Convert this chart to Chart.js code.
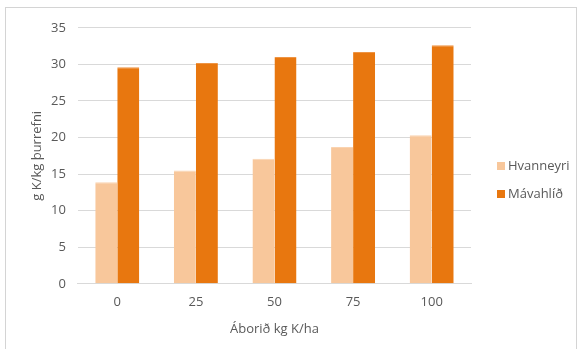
<!DOCTYPE html>
<html>
<head>
<meta charset="utf-8">
<script src="https://cdn.jsdelivr.net/npm/chart.js@4/dist/chart.umd.min.js"></script>
<style>
  html, body { margin: 0; padding: 0; background: #fff; }
  #box {
    position: absolute; left: 5px; top: 7px;
    width: 572px; height: 346px;
    border: 1px solid #d4d4d4; box-sizing: border-box;
  }
  #wrap { position: absolute; left: 0; top: 0; width: 570px; height: 344px; }
</style>
</head>
<body>
<div id="box"><div id="wrap"><canvas id="chart"></canvas></div></div>
<script>
// data
const categories = ['0', '25', '50', '75', '100'];
const hvanneyri = [13.9, 15.5, 17.1, 18.7, 20.3];
const mavahlid = [29.6, 30.2, 31.0, 31.7, 32.6];
const seriesNames = ['Hvanneyri', 'Mávahlíð'];
const yTicks = [0, 5, 10, 15, 20, 25, 30, 35];

const fontFamily = "'Open Sans', 'Liberation Sans', sans-serif";
const textColor = '#595959';

Chart.defaults.font.family = fontFamily;
Chart.defaults.color = textColor;

// legend drawn on the right, like the Excel one
const sideLegend = {
    id: 'sideLegend',
    afterDraw(chart) {
        const c = chart.ctx;
        const x = 491;
        const rows = [158, 186];
        c.save();
        c.font = `13px ${fontFamily}`;
        c.textBaseline = 'middle';
        chart.data.datasets.forEach((ds, i) => {
            c.fillStyle = ds.backgroundColor;
            c.fillRect(x, rows[i] - 4, 8, 8);
            c.fillStyle = textColor;
            c.fillText(ds.label, x + 11, rows[i]);
        });
        c.restore();
    }
};

const ctx = document.getElementById('chart');
new Chart(ctx, {
    type: 'bar',
    data: {
        labels: categories,
        datasets: [{
            label: seriesNames[0],
            data: hvanneyri,
            backgroundColor: '#F8C79B',
            borderColor: '#FAD3B0',
            borderWidth: { top: 1, left: 0, right: 0, bottom: 0 },
            categoryPercentage: 0.56,
            barPercentage: 1
        }, {
            label: seriesNames[1],
            data: mavahlid,
            backgroundColor: '#E8770F',
            borderColor: '#EE9444',
            borderWidth: { top: 1, left: 0, right: 0, bottom: 0 },
            categoryPercentage: 0.56,
            barPercentage: 1
        }]
    },
    plugins: [sideLegend],
    options: {
        animation: false,
        responsive: true,
        maintainAspectRatio: false,
        layout: { padding: { left: 1.5, right: 105, top: 12, bottom: 15 } },
        plugins: {
            tooltip: { enabled: false },
            legend: { display: false }
        },
        scales: {
            x: {
                grid: { display: false, drawTicks: false },
                border: { display: true, color: '#d9d9d9', width: 1 },
                ticks: { padding: 11, font: { size: 13 }, color: textColor },
                title: {
                    display: true,
                    text: 'Áborið kg K/ha',
                    font: { size: 13 },
                    color: textColor,
                    padding: { top: 0, bottom: 0 }
                }
            },
            y: {
                min: 0,
                max: 35,
                afterBuildTicks: axis => { axis.ticks = yTicks.map(v => ({ value: v })); },
                grid: { color: '#d9d9d9', drawTicks: false },
                border: { display: false },
                ticks: { padding: 12, font: { size: 13 }, color: textColor },
                title: {
                    display: true,
                    text: 'g K/kg þurrefni',
                    font: { size: 13 },
                    color: textColor,
                    padding: { top: 22, bottom: -6 }
                }
            }
        }
    }
});
</script>
</body>
</html>
